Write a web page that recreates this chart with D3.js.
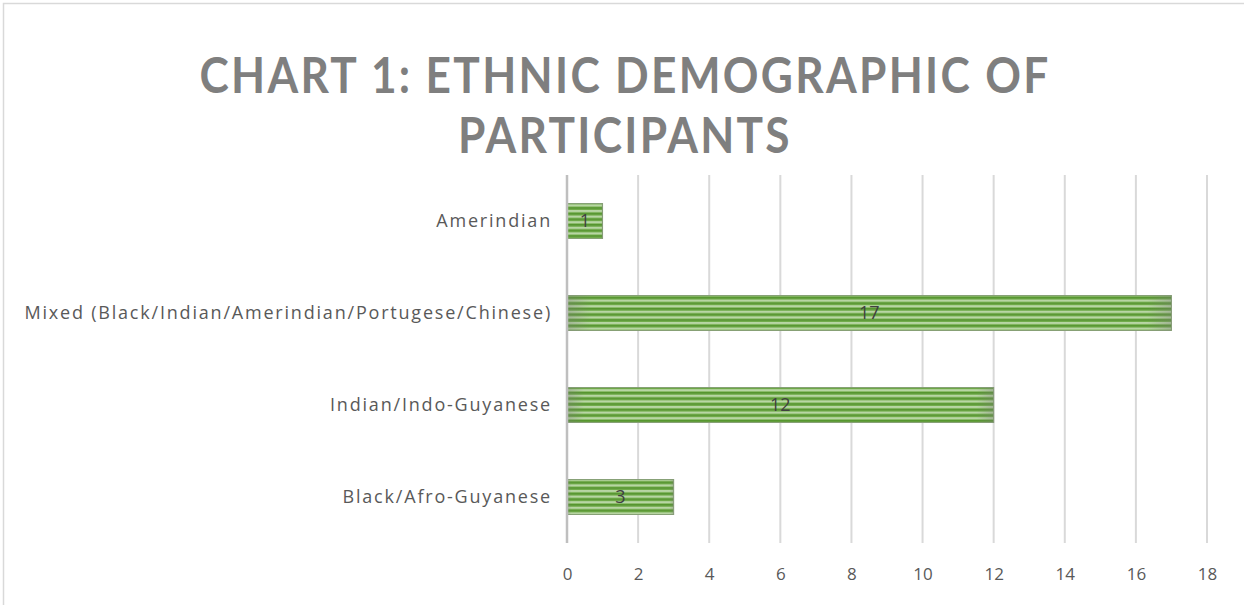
<!DOCTYPE html>
<html>
<head>
<meta charset="utf-8">
<script src="https://cdn.jsdelivr.net/npm/d3@7"></script>
<style>
  html, body { margin: 0; padding: 0; background: #fff; }
  svg { display: block; }
</style>
</head>
<body>
<svg id="chart" width="1244" height="605"></svg>
<script>
const titleLines = ["CHART 1: ETHNIC DEMOGRAPHIC OF", "PARTICIPANTS"];
const categories = ["Amerindian", "Mixed (Black/Indian/Amerindian/Portugese/Chinese)", "Indian/Indo-Guyanese", "Black/Afro-Guyanese"];
const values = [1, 17, 12, 3];
const xTicks = [0, 2, 4, 6, 8, 10, 12, 14, 16, 18];

const W = 1244, H = 605;
const margin = { left: 567, right: 37, top: 175, bottom: 62 };
const svg = d3.select("#chart");

// chart frame
svg.append("rect").attr("x", 3.5).attr("y", 3.5).attr("width", W + 10).attr("height", H + 10)
  .attr("fill", "#fff").attr("stroke", "#d9d9d9").attr("stroke-width", 1.5);

const defs = svg.append("defs");
const pat = defs.append("pattern").attr("id", "stripes").attr("patternUnits", "userSpaceOnUse")
  .attr("width", 10).attr("height", 5.6);
pat.append("rect").attr("width", 10).attr("height", 5.6).attr("fill", "#cbe1bc");
pat.append("rect").attr("y", 0).attr("width", 10).attr("height", 1.8).attr("fill", "#56962f");
pat.append("rect").attr("y", 1.8).attr("width", 10).attr("height", 1.2).attr("fill", "#72ad4c");
pat.append("rect").attr("y", 4.4).attr("width", 10).attr("height", 1.2).attr("fill", "#8abb69");

const grad = defs.append("linearGradient").attr("id", "edgeFade").attr("x1", 0).attr("x2", 1).attr("y1", 0).attr("y2", 0);
grad.append("stop").attr("offset", "0").attr("stop-color", "#7a7a7a").attr("stop-opacity", 0.35);
grad.append("stop").attr("offset", "0.04").attr("stop-color", "#7a7a7a").attr("stop-opacity", 0);
grad.append("stop").attr("offset", "0.96").attr("stop-color", "#7a7a7a").attr("stop-opacity", 0);
grad.append("stop").attr("offset", "1").attr("stop-color", "#7a7a7a").attr("stop-opacity", 0.35);

// title (slightly condensed horizontally to mimic Calibri)
const title = svg.append("g").attr("transform", "translate(625,0) scale(0.885,1)");
title.selectAll("text").data(titleLines).join("text")
  .attr("x", 0).attr("y", (d, i) => 93 + i * 60)
  .attr("text-anchor", "middle")
  .attr("font-family", "Lato, sans-serif").attr("font-weight", 700)
  .attr("font-size", 50).attr("letter-spacing", 2.6)
  .attr("fill", "#7f7f7f")
  .text(d => d);

const x = d3.scaleLinear().domain([0, 18]).range([margin.left, W - margin.right]);
const y = d3.scaleBand().domain(categories).range([margin.top, H - margin.bottom]).paddingInner(0.62).paddingOuter(0.31);

// gridlines
svg.append("g").selectAll("line").data(xTicks.filter(t => t > 0)).join("line")
  .attr("x1", d => x(d)).attr("x2", d => x(d))
  .attr("y1", margin.top).attr("y2", H - margin.bottom)
  .attr("stroke", "#d9d9d9").attr("stroke-width", 2);

// x tick labels via axis
const xAxis = svg.append("g").attr("transform", `translate(0,${H - margin.bottom})`)
  .call(d3.axisBottom(x).tickValues(xTicks).tickSize(0).tickPadding(25));
xAxis.select(".domain").remove();
xAxis.selectAll("text").attr("font-family", "'Open Sans', sans-serif").attr("font-size", 17).attr("fill", "#595959");

// bars
const bars = svg.append("g");
bars.selectAll("rect.bar").data(values).join("rect").attr("class", "bar")
  .attr("x", x(0)).attr("y", (d, i) => y(categories[i]))
  .attr("width", d => x(d) - x(0)).attr("height", y.bandwidth())
  .attr("fill", "url(#stripes)").attr("stroke", "#86a075").attr("stroke-width", 1);
bars.selectAll("rect.fade").data(values).join("rect").attr("class", "fade")
  .attr("x", x(0)).attr("y", (d, i) => y(categories[i]))
  .attr("width", d => x(d) - x(0)).attr("height", y.bandwidth())
  .attr("fill", "url(#edgeFade)");

// y axis line at zero
svg.append("line").attr("x1", x(0)).attr("x2", x(0)).attr("y1", margin.top).attr("y2", H - margin.bottom)
  .attr("stroke", "#bfbfbf").attr("stroke-width", 2.5);

// category labels
const yAxis = svg.append("g").attr("transform", `translate(${x(0)},0)`)
  .call(d3.axisLeft(y).tickSize(0).tickPadding(15));
yAxis.select(".domain").remove();
yAxis.selectAll("text").attr("font-family", "'Open Sans', sans-serif").attr("font-size", 18)
  .attr("letter-spacing", 1.8).attr("fill", "#595959");

// value labels
svg.append("g").selectAll("text").data(values).join("text")
  .attr("x", d => (x(0) + x(d)) / 2)
  .attr("y", (d, i) => y(categories[i]) + y.bandwidth() / 2)
  .attr("dy", "0.35em").attr("text-anchor", "middle")
  .attr("font-family", "'Open Sans', sans-serif").attr("font-size", 18).attr("fill", "#404040")
  .text(d => d);
</script>
</body>
</html>
